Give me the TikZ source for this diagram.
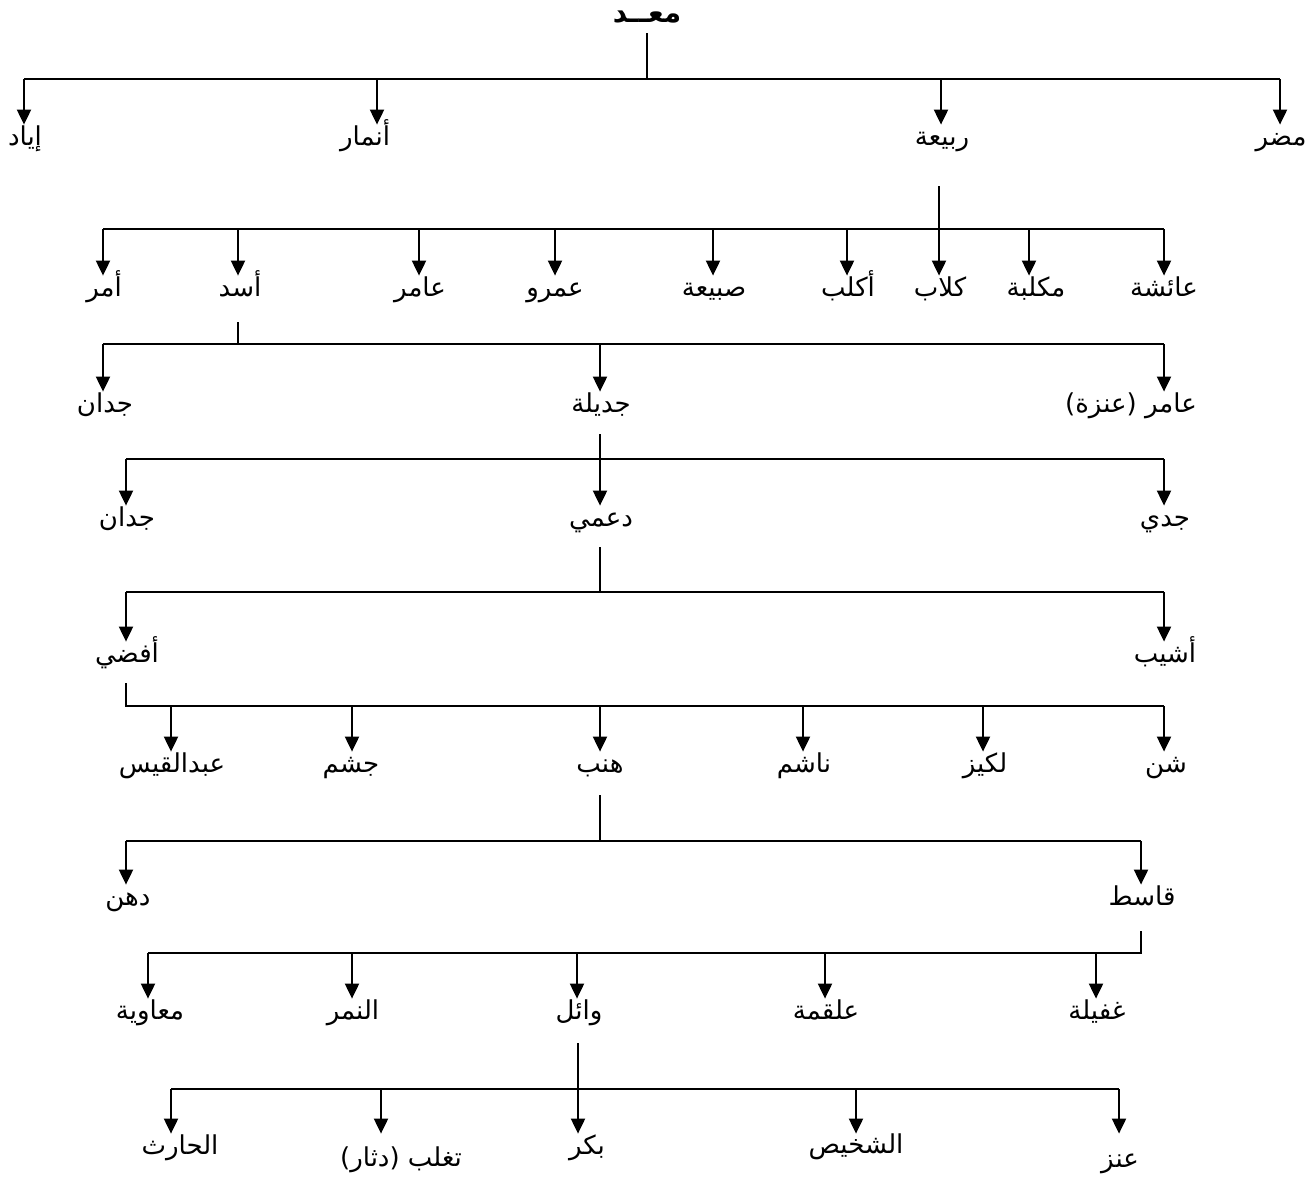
\documentclass[tikz,border=0pt]{standalone}
\usepackage{fontspec}
\usetikzlibrary{arrows.meta}
\newfontfamily\arabicfont[Script=Arabic]{DejaVu Sans}
\TeXXeTstate=1
\newcommand{\rtl}[1]{\beginR #1\endR}

\begin{document}
\begin{tikzpicture}[x=0.5pt,y=-0.5pt,
  tribe/.style={font=\arabicfont\fontsize{13}{15}\selectfont,inner sep=0pt,text height=10pt,text depth=4pt},
  link/.style={line width=1pt},
  down/.style={line width=1pt,-{Triangle[width=7pt,length=7.5pt]}}]
\useasboundingbox (0,0) rectangle (1316,1183);

\node[tribe,font=\arabicfont\bfseries\fontsize{14}{16}\selectfont] (maad) at (647,17) {\rtl{معــد}};

\node[tribe] (iyad) at (25,139) {\rtl{إياد}};
\node[tribe] (anmar) at (365,139) {\rtl{أنمار}};
\node[tribe] (rabia) at (942,139) {\rtl{ربيعة}};
\node[tribe] (mudar) at (1281,139) {\rtl{مضر}};

\node[tribe] (amr) at (104,290) {\rtl{أمر}};
\node[tribe] (asad) at (240,290) {\rtl{أسد}};
\node[tribe] (amir) at (420,290) {\rtl{عامر}};
\node[tribe] (amru) at (555,290) {\rtl{عمرو}};
\node[tribe] (dubayaa) at (714,290) {\rtl{صبيعة}};
\node[tribe] (aklub) at (848,290) {\rtl{أكلب}};
\node[tribe] (kilab) at (940,290) {\rtl{كلاب}};
\node[tribe] (muklaba) at (1036,290) {\rtl{مكلبة}};
\node[tribe] (aisha) at (1164,290) {\rtl{عائشة}};

\node[tribe] (jaddan) at (105,406) {\rtl{جدان}};
\node[tribe] (jadila) at (601,406) {\rtl{جديلة}};
\node[tribe] (amiranaza) at (1131,406) {\rtl{عامر (عنزة)}};

\node[tribe] (jaddanb) at (127,520) {\rtl{جدان}};
\node[tribe] (duami) at (601,520) {\rtl{دعمي}};
\node[tribe] (jadi) at (1165,520) {\rtl{جدي}};

\node[tribe] (afsa) at (127,656) {\rtl{أفضي}};
\node[tribe] (ashyab) at (1165,656) {\rtl{أشيب}};

\node[tribe] (abdalqays) at (172,766) {\rtl{عبدالقيس}};
\node[tribe] (jusham) at (351,766) {\rtl{جشم}};
\node[tribe] (hinb) at (600,766) {\rtl{هنب}};
\node[tribe] (nashim) at (804,766) {\rtl{ناشم}};
\node[tribe] (lukayz) at (985,766) {\rtl{لكيز}};
\node[tribe] (shann) at (1166,766) {\rtl{شن}};

\node[tribe] (duhn) at (128,899) {\rtl{دهن}};
\node[tribe] (qasit) at (1142,899) {\rtl{قاسط}};

\node[tribe] (muawiya) at (150,1013) {\rtl{معاوية}};
\node[tribe] (namir) at (353,1013) {\rtl{النمر}};
\node[tribe] (wail) at (579,1013) {\rtl{وائل}};
\node[tribe] (alqama) at (826,1013) {\rtl{علقمة}};
\node[tribe] (ghufayla) at (1097,1013) {\rtl{غفيلة}};

\node[tribe] (harith) at (180,1148) {\rtl{الحارث}};
\node[tribe] (taghlib) at (401,1160) {\rtl{تغلب (دثار)}};
\node[tribe] (bakr) at (587,1148) {\rtl{بكر}};
\node[tribe] (shakhis) at (856,1147) {\rtl{الشخيص}};
\node[tribe] (anz) at (1120,1161) {\rtl{عنز}};

\draw[link] (647,33) -- (647,79);
\draw[link] (24,79) -- (1280,79);
\foreach \n/\x in {iyad/24,anmar/377,rabia/941,mudar/1280}
  \draw[down] (\x,79) coordinate (j\n) -- (j\n |- \n.north);

\draw[down] (939,186) coordinate (rabiaS) -- (rabiaS |- kilab.north);
\draw[link] (103,229) -- (1164,229);
\foreach \n/\x in {amr/103,asad/238,amir/419,amru/555,dubayaa/713,aklub/847,muklaba/1029,aisha/1164}
  \draw[down] (\x,229) coordinate (j\n) -- (j\n |- \n.north);

\draw[link] (238,322) -- (238,344);
\draw[link] (103,344) -- (1164,344);
\foreach \n/\x in {jaddan/103,jadila/600,amiranaza/1164}
  \draw[down] (\x,344) coordinate (j\n) -- (j\n |- \n.north);

\draw[down] (600,434) coordinate (jadilaS) -- (jadilaS |- duami.north);
\draw[link] (126,459) -- (1164,459);
\foreach \n/\x in {jaddanb/126,jadi/1164}
  \draw[down] (\x,459) coordinate (j\n) -- (j\n |- \n.north);

\draw[link] (600,547) -- (600,592);
\draw[link] (126,592) -- (1164,592);
\foreach \n/\x in {afsa/126,ashyab/1164}
  \draw[down] (\x,592) coordinate (j\n) -- (j\n |- \n.north);

\draw[link] (126,683) -- (126,706) -- (1164,706);
\foreach \n/\x in {abdalqays/171,jusham/352,hinb/600,nashim/803,lukayz/983,shann/1164}
  \draw[down] (\x,706) coordinate (j\n) -- (j\n |- \n.north);

\draw[link] (600,795) -- (600,841);
\draw[link] (126,841) -- (1141,841);
\foreach \n/\x in {duhn/126,qasit/1141}
  \draw[down] (\x,841) coordinate (j\n) -- (j\n |- \n.north);

\draw[link] (1141,931) -- (1141,953) -- (148,953);
\foreach \n/\x in {muawiya/148,namir/352,wail/577,alqama/825,ghufayla/1096}
  \draw[down] (\x,953) coordinate (j\n) -- (j\n |- \n.north);

\draw[down] (578,1043) coordinate (wailS) -- (wailS |- harith.north);
\draw[link] (171,1089) -- (1119,1089);
\foreach \n/\x in {harith/171,taghlib/381,shakhis/856,anz/1119}
  \draw[down] (\x,1089) coordinate (j\n) -- (j\n |- harith.north);
\end{tikzpicture}
\end{document}
